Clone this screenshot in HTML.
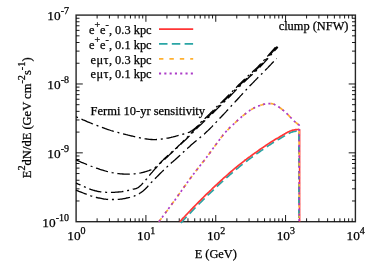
<!DOCTYPE html>
<html><head><meta charset="utf-8"><style>
html,body{margin:0;padding:0;background:#fff;}
svg{display:block;will-change:transform}
text{font-family:"Liberation Serif",serif;fill:#000;stroke:#000;stroke-width:0.25px}
</style></head><body>
<svg width="374" height="262" viewBox="0 0 374 262">
<rect width="374" height="262" fill="#fff"/>
<rect x="76.1" y="15.1" width="279.29999999999995" height="206.6" fill="none" stroke="#262626" stroke-width="1.4"/>
<path d="M97.12 221.7v-3.4M97.12 15.1v3.4M109.41 221.7v-3.4M109.41 15.1v3.4M118.14 221.7v-3.4M118.14 15.1v3.4M124.91 221.7v-3.4M124.91 15.1v3.4M130.43 221.7v-3.4M130.43 15.1v3.4M135.11 221.7v-3.4M135.11 15.1v3.4M139.16 221.7v-3.4M139.16 15.1v3.4M142.73 221.7v-3.4M142.73 15.1v3.4M145.92 221.7v-6.7M145.92 15.1v6.7M166.94 221.7v-3.4M166.94 15.1v3.4M179.24 221.7v-3.4M179.24 15.1v3.4M187.96 221.7v-3.4M187.96 15.1v3.4M194.73 221.7v-3.4M194.73 15.1v3.4M200.26 221.7v-3.4M200.26 15.1v3.4M204.93 221.7v-3.4M204.93 15.1v3.4M208.98 221.7v-3.4M208.98 15.1v3.4M212.55 221.7v-3.4M212.55 15.1v3.4M215.75 221.7v-6.7M215.75 15.1v6.7M236.77 221.7v-3.4M236.77 15.1v3.4M249.06 221.7v-3.4M249.06 15.1v3.4M257.79 221.7v-3.4M257.79 15.1v3.4M264.56 221.7v-3.4M264.56 15.1v3.4M270.08 221.7v-3.4M270.08 15.1v3.4M274.76 221.7v-3.4M274.76 15.1v3.4M278.81 221.7v-3.4M278.81 15.1v3.4M282.38 221.7v-3.4M282.38 15.1v3.4M285.57 221.7v-6.7M285.57 15.1v6.7M306.59 221.7v-3.4M306.59 15.1v3.4M318.89 221.7v-3.4M318.89 15.1v3.4M327.61 221.7v-3.4M327.61 15.1v3.4M334.38 221.7v-3.4M334.38 15.1v3.4M339.91 221.7v-3.4M339.91 15.1v3.4M344.58 221.7v-3.4M344.58 15.1v3.4M348.63 221.7v-3.4M348.63 15.1v3.4M352.20 221.7v-3.4M352.20 15.1v3.4M76.1 200.97h3.4M355.4 200.97h-3.4M76.1 188.84h3.4M355.4 188.84h-3.4M76.1 180.24h3.4M355.4 180.24h-3.4M76.1 173.56h3.4M355.4 173.56h-3.4M76.1 168.11h3.4M355.4 168.11h-3.4M76.1 163.50h3.4M355.4 163.50h-3.4M76.1 159.51h3.4M355.4 159.51h-3.4M76.1 155.98h3.4M355.4 155.98h-3.4M76.1 152.83h6.7M355.4 152.83h-6.7M76.1 132.10h3.4M355.4 132.10h-3.4M76.1 119.98h3.4M355.4 119.98h-3.4M76.1 111.37h3.4M355.4 111.37h-3.4M76.1 104.70h3.4M355.4 104.70h-3.4M76.1 99.24h3.4M355.4 99.24h-3.4M76.1 94.63h3.4M355.4 94.63h-3.4M76.1 90.64h3.4M355.4 90.64h-3.4M76.1 87.12h3.4M355.4 87.12h-3.4M76.1 83.97h6.7M355.4 83.97h-6.7M76.1 63.24h3.4M355.4 63.24h-3.4M76.1 51.11h3.4M355.4 51.11h-3.4M76.1 42.50h3.4M355.4 42.50h-3.4M76.1 35.83h3.4M355.4 35.83h-3.4M76.1 30.38h3.4M355.4 30.38h-3.4M76.1 25.77h3.4M355.4 25.77h-3.4M76.1 21.77h3.4M355.4 21.77h-3.4M76.1 18.25h3.4M355.4 18.25h-3.4" stroke="#000" stroke-width="0.9" fill="none"/>
<path d="M76.0 116.7 L76.8 117.0 L77.7 117.5 L78.9 118.0 L80.1 118.5 L81.5 119.1 L83.0 119.8 L84.5 120.4 L86.1 121.1 L87.6 121.8 L89.1 122.4 L90.6 123.0 L92.0 123.6 L93.3 124.1 L94.7 124.7 L96.0 125.2 L97.4 125.7 L98.7 126.2 L100.0 126.7 L101.4 127.3 L102.7 127.7 L104.1 128.2 L105.4 128.7 L106.8 129.2 L108.1 129.6 L109.5 130.0 L110.8 130.5 L112.2 130.9 L113.6 131.3 L115.0 131.7 L116.4 132.1 L117.8 132.4 L119.1 132.8 L120.4 133.1 L121.7 133.5 L122.9 133.8 L124.1 134.1 L125.2 134.4 L126.3 134.7 L127.3 134.9 L128.2 135.2 L129.2 135.4 L130.1 135.6 L131.0 135.8 L131.9 136.0 L132.7 136.2 L133.6 136.4 L134.5 136.6 L135.4 136.8 L136.3 137.0 L137.2 137.2 L138.2 137.4 L139.1 137.6 L140.0 137.8 L140.9 138.0 L141.8 138.2 L142.7 138.3 L143.5 138.5 L144.4 138.6 L145.2 138.8 L146.0 138.9 L146.8 139.0 L147.5 139.1 L148.2 139.2 L148.9 139.3 L149.5 139.4 L150.2 139.4 L150.8 139.5 L151.4 139.5 L152.1 139.5 L152.7 139.6 L153.3 139.6 L154.0 139.6 L154.7 139.6 L155.3 139.6 L156.0 139.6 L156.7 139.5 L157.3 139.5 L158.0 139.4 L158.7 139.4 L159.3 139.3 L160.0 139.2 L160.7 139.2 L161.3 139.1 L162.0 139.0 L162.7 138.9 L163.3 138.8 L163.9 138.8 L164.5 138.7 L165.1 138.6 L165.7 138.5 L166.4 138.4 L167.0 138.2 L167.7 138.1 L168.5 138.0 L169.3 137.8 L170.1 137.6 L171.0 137.4 L172.0 137.1 L173.1 136.9 L174.3 136.6 L175.4 136.3 L176.6 136.0 L177.8 135.6 L179.0 135.3 L180.1 135.0 L181.1 134.7 L182.1 134.5 L183.0 134.2 L183.8 134.0 L184.5 133.8 L185.2 133.6 L185.8 133.4 L186.4 133.3 L186.9 133.1 L187.4 132.9 L187.9 132.7 L188.4 132.5 L188.9 132.3 L189.5 132.1 L190.0 131.8 L190.6 131.5 L191.1 131.1 L191.7 130.8 L192.3 130.4 L192.8 130.0 L193.4 129.6 L193.9 129.2 L194.5 128.7 L195.0 128.3 L195.5 127.9 L196.0 127.4 L196.5 127.0 L197.0 126.6 L197.4 126.2 L197.8 125.8 L198.1 125.3 L198.5 124.9 L198.9 124.5 L199.2 124.1 L199.6 123.6 L200.0 123.2 L200.4 122.7 L200.9 122.2 L201.4 121.7 L202.0 121.2 L202.5 120.6 L203.2 120.0 L203.8 119.4 L204.5 118.8 L205.2 118.2 L205.9 117.5 L206.6 116.9 L207.3 116.2 L207.9 115.6 L208.6 114.9 L209.3 114.3 L210.0 113.6 L210.6 113.0 L211.3 112.3 L212.0 111.6 L212.7 110.9 L213.3 110.2 L214.0 109.5 L214.7 108.8 L215.3 108.2 L216.0 107.5 L216.6 106.9 L217.2 106.3 L217.7 105.8 L218.2 105.3 L218.6 105.0 L219.0 104.6 L219.3 104.3 L219.7 104.0 L220.1 103.6 L220.6 103.2 L221.1 102.6 L221.8 102.0 L222.6 101.2 L223.5 100.3 L224.6 99.2 L225.9 97.9 L227.3 96.5 L228.8 95.0 L230.4 93.3 L232.1 91.7 L233.8 89.9 L235.5 88.2 L237.2 86.5 L238.8 84.8 L240.5 83.2 L242.0 81.7 L243.5 80.3 L245.0 78.9 L246.4 77.5 L247.9 76.1 L249.3 74.8 L250.8 73.5 L252.2 72.2 L253.6 70.8 L255.1 69.5 L256.5 68.1 L258.0 66.7 L259.4 65.2 L260.9 63.6 L262.5 61.9 L264.1 60.1 L265.8 58.3 L267.5 56.4 L269.1 54.5 L270.7 52.7 L272.2 51.0 L273.6 49.4 L274.8 48.0 L275.9 46.8 L276.7 45.9" fill="none" stroke-dashoffset="16.13" stroke="#000" stroke-width="1.3" stroke-dasharray="12.5 3.8 2 3.8"/>
<path d="M76.0 159.9 L76.8 160.2 L77.7 160.6 L78.9 161.1 L80.1 161.7 L81.5 162.3 L83.0 162.9 L84.5 163.5 L86.1 164.2 L87.6 164.8 L89.1 165.4 L90.6 166.0 L92.0 166.5 L93.3 167.0 L94.7 167.5 L96.0 168.0 L97.4 168.4 L98.7 168.9 L100.0 169.4 L101.4 169.8 L102.7 170.2 L104.1 170.6 L105.4 171.0 L106.8 171.4 L108.1 171.7 L109.4 172.0 L110.8 172.3 L112.1 172.6 L113.5 172.8 L114.9 173.1 L116.2 173.3 L117.6 173.5 L118.9 173.6 L120.2 173.8 L121.5 173.9 L122.8 174.0 L124.1 174.1 L125.4 174.2 L126.6 174.2 L127.8 174.2 L129.0 174.2 L130.2 174.1 L131.4 174.1 L132.6 174.0 L133.8 173.9 L134.9 173.8 L136.1 173.6 L137.2 173.5 L138.4 173.3 L139.6 173.1 L140.8 172.9 L142.0 172.6 L143.2 172.3 L144.3 172.0 L145.5 171.7 L146.7 171.3 L147.8 171.0 L148.9 170.6 L149.9 170.2 L150.8 169.9 L151.7 169.5 L152.5 169.1 L153.2 168.8 L153.8 168.4 L154.4 168.0 L155.0 167.7 L155.5 167.3 L155.9 166.9 L156.4 166.5 L156.9 166.1 L157.4 165.6 L157.9 165.2 L158.4 164.7 L158.9 164.2 L159.4 163.8 L159.9 163.3 L160.4 162.8 L160.9 162.3 L161.3 161.8 L161.8 161.3 L162.4 160.7 L163.0 160.1 L163.6 159.4 L164.3 158.7 L165.1 158.0 L166.0 157.2 L167.0 156.3 L168.0 155.3 L169.1 154.3 L170.3 153.3 L171.5 152.2 L172.7 151.2 L173.9 150.1 L175.1 149.0 L176.3 148.0 L177.4 147.0 L178.4 146.0 L179.4 145.1 L180.4 144.1 L181.3 143.1 L182.3 142.2 L183.2 141.3 L184.2 140.3 L185.0 139.4 L185.9 138.6 L186.8 137.7 L187.6 136.9 L188.3 136.1 L189.1 135.3 L189.8 134.6 L190.5 133.9 L191.1 133.2 L191.7 132.6 L192.3 132.0 L192.8 131.5 L193.4 130.9 L193.9 130.3 L194.4 129.8 L194.9 129.3 L195.5 128.7 L196.0 128.2 L196.5 127.7 L197.0 127.2 L197.5 126.7 L198.0 126.2 L198.5 125.7 L198.9 125.3 L199.4 124.8 L199.9 124.3 L200.4 123.9 L200.9 123.4 L201.4 122.8 L202.0 122.3 L202.6 121.7 L203.2 121.2 L203.8 120.6 L204.5 120.0 L205.2 119.4 L205.8 118.7 L206.5 118.1 L207.2 117.5 L207.9 116.8 L208.6 116.2 L209.2 115.5 L209.9 114.9 L210.6 114.2 L211.2 113.6 L211.9 112.9 L212.6 112.2 L213.3 111.5 L214.0 110.8 L214.6 110.1 L215.3 109.4 L215.9 108.8 L216.6 108.1 L217.2 107.5 L217.8 106.9 L218.3 106.4 L218.8 105.9 L219.2 105.6 L219.6 105.2 L219.9 104.9 L220.3 104.6 L220.7 104.2 L221.2 103.8 L221.7 103.2 L222.4 102.6 L223.2 101.8 L224.1 100.9 L225.2 99.8 L226.5 98.5 L227.9 97.1 L229.4 95.6 L231.0 93.9 L232.7 92.3 L234.4 90.5 L236.1 88.8 L237.8 87.1 L239.4 85.4 L241.1 83.8 L242.6 82.3 L244.1 80.9 L245.6 79.5 L247.0 78.1 L248.5 76.7 L249.9 75.4 L251.4 74.1 L252.8 72.8 L254.2 71.4 L255.7 70.1 L257.1 68.7 L258.6 67.3 L260.0 65.8 L261.5 64.2 L263.1 62.5 L264.7 60.7 L266.4 58.9 L268.1 57.0 L269.7 55.1 L271.3 53.3 L272.8 51.6 L274.2 50.0 L275.4 48.6 L276.5 47.4 L277.3 46.5" fill="none" stroke-dashoffset="0.50" stroke="#000" stroke-width="1.3" stroke-dasharray="12.5 3.8 2 3.8"/>
<path d="M76.0 183.0 L76.8 183.3 L77.8 183.8 L78.9 184.3 L80.3 184.9 L81.7 185.6 L83.2 186.2 L84.7 186.9 L86.3 187.6 L87.8 188.3 L89.3 188.8 L90.7 189.4 L92.0 189.8 L93.2 190.2 L94.3 190.5 L95.4 190.8 L96.4 191.0 L97.4 191.3 L98.5 191.5 L99.5 191.6 L100.5 191.8 L101.5 191.9 L102.6 192.0 L103.7 192.1 L104.9 192.2 L106.1 192.3 L107.4 192.3 L108.8 192.3 L110.2 192.3 L111.6 192.3 L113.0 192.3 L114.4 192.3 L115.8 192.2 L117.2 192.1 L118.5 192.0 L119.7 191.9 L120.9 191.8 L122.0 191.7 L123.1 191.5 L124.2 191.3 L125.2 191.1 L126.2 190.9 L127.2 190.7 L128.1 190.5 L129.0 190.2 L129.8 190.0 L130.7 189.8 L131.5 189.6 L132.2 189.4 L132.9 189.2 L133.5 189.1 L134.1 189.0 L134.6 188.9 L135.1 188.8 L135.6 188.7 L136.0 188.5 L136.5 188.4 L136.9 188.2 L137.4 188.0 L137.9 187.7 L138.4 187.4 L138.9 187.0 L139.5 186.6 L140.0 186.1 L140.6 185.6 L141.1 185.1 L141.7 184.5 L142.2 183.9 L142.8 183.3 L143.3 182.7 L143.9 182.0 L144.4 181.4 L145.0 180.8 L145.6 180.2 L146.1 179.5 L146.7 178.9 L147.2 178.2 L147.8 177.5 L148.3 176.8 L148.9 176.1 L149.5 175.4 L150.0 174.7 L150.6 174.0 L151.1 173.4 L151.7 172.7 L152.3 172.1 L152.8 171.4 L153.4 170.8 L153.9 170.1 L154.5 169.5 L155.0 168.9 L155.6 168.3 L156.2 167.7 L156.7 167.1 L157.3 166.5 L157.8 165.9 L158.4 165.3 L158.9 164.8 L159.4 164.2 L159.9 163.8 L160.4 163.3 L160.9 162.9 L161.3 162.4 L161.8 161.9 L162.4 161.4 L163.0 160.9 L163.6 160.3 L164.3 159.6 L165.1 158.9 L166.0 158.1 L167.0 157.2 L168.0 156.2 L169.1 155.1 L170.3 154.0 L171.5 152.9 L172.7 151.8 L173.9 150.7 L175.1 149.6 L176.3 148.5 L177.4 147.5 L178.4 146.5 L179.4 145.6 L180.4 144.6 L181.3 143.7 L182.3 142.8 L183.2 141.9 L184.2 141.1 L185.0 140.2 L185.9 139.4 L186.8 138.6 L187.6 137.8 L188.3 137.0 L189.1 136.3 L189.8 135.6 L190.5 134.9 L191.1 134.3 L191.7 133.7 L192.3 133.1 L192.8 132.5 L193.3 131.9 L193.9 131.4 L194.4 130.8 L194.9 130.3 L195.4 129.8 L196.0 129.2 L196.6 128.7 L197.1 128.1 L197.6 127.6 L198.2 127.1 L198.7 126.6 L199.2 126.1 L199.8 125.6 L200.3 125.1 L200.9 124.5 L201.4 124.0 L202.0 123.5 L202.6 122.9 L203.2 122.3 L203.8 121.7 L204.5 121.1 L205.1 120.5 L205.8 119.9 L206.5 119.3 L207.1 118.7 L207.8 118.1 L208.5 117.4 L209.2 116.8 L209.8 116.1 L210.5 115.5 L211.2 114.8 L211.8 114.2 L212.5 113.5 L213.2 112.8 L213.9 112.1 L214.6 111.4 L215.2 110.7 L215.9 110.0 L216.5 109.4 L217.2 108.7 L217.8 108.1 L218.4 107.5 L218.9 107.0 L219.4 106.5 L219.8 106.2 L220.2 105.8 L220.5 105.5 L220.9 105.2 L221.3 104.8 L221.8 104.4 L222.3 103.8 L223.0 103.2 L223.8 102.4 L224.7 101.5 L225.8 100.4 L227.1 99.1 L228.5 97.7 L230.0 96.2 L231.6 94.5 L233.3 92.9 L235.0 91.1 L236.7 89.4 L238.4 87.7 L240.0 86.0 L241.7 84.4 L243.2 82.9 L244.7 81.5 L246.2 80.1 L247.6 78.7 L249.1 77.3 L250.5 76.0 L252.0 74.7 L253.4 73.4 L254.8 72.0 L256.3 70.7 L257.7 69.3 L259.2 67.9 L260.6 66.4 L262.1 64.8 L263.7 63.1 L265.3 61.3 L267.0 59.5 L268.7 57.6 L270.3 55.7 L271.9 53.9 L273.4 52.2 L274.8 50.6 L276.0 49.2 L277.1 48.0 L277.9 47.1" fill="none" stroke-dashoffset="7.58" stroke="#000" stroke-width="1.3" stroke-dasharray="12.5 3.8 2 3.8"/>
<path d="M76.0 190.2 L76.8 190.5 L77.8 190.9 L78.9 191.4 L80.3 191.9 L81.7 192.4 L83.2 193.0 L84.7 193.6 L86.3 194.2 L87.8 194.8 L89.3 195.3 L90.7 195.8 L92.0 196.2 L93.2 196.6 L94.4 196.9 L95.6 197.2 L96.7 197.5 L97.9 197.8 L99.0 198.0 L100.1 198.2 L101.1 198.4 L102.2 198.6 L103.1 198.8 L104.0 199.0 L104.9 199.1 L105.7 199.2 L106.4 199.3 L107.0 199.4 L107.6 199.4 L108.2 199.5 L108.7 199.5 L109.2 199.5 L109.7 199.5 L110.2 199.5 L110.8 199.5 L111.4 199.5 L112.0 199.5 L112.7 199.5 L113.4 199.5 L114.0 199.5 L114.7 199.5 L115.5 199.5 L116.2 199.5 L116.9 199.4 L117.7 199.4 L118.5 199.4 L119.3 199.3 L120.1 199.2 L120.9 199.1 L121.8 199.0 L122.7 198.8 L123.7 198.6 L124.7 198.5 L125.7 198.3 L126.7 198.0 L127.7 197.8 L128.7 197.6 L129.7 197.4 L130.6 197.1 L131.4 196.9 L132.2 196.7 L132.9 196.5 L133.5 196.3 L134.1 196.1 L134.6 195.9 L135.1 195.7 L135.6 195.5 L136.0 195.3 L136.5 195.1 L136.9 194.9 L137.4 194.7 L137.9 194.4 L138.4 194.1 L138.9 193.8 L139.5 193.5 L140.0 193.1 L140.6 192.8 L141.1 192.4 L141.7 192.0 L142.2 191.6 L142.8 191.2 L143.3 190.7 L143.9 190.3 L144.4 189.8 L145.0 189.3 L145.5 188.8 L146.0 188.3 L146.5 187.8 L147.0 187.3 L147.4 186.8 L147.9 186.2 L148.4 185.7 L149.0 185.0 L149.6 184.4 L150.2 183.7 L150.9 182.9 L151.7 182.1 L152.6 181.2 L153.5 180.2 L154.6 179.2 L155.7 178.0 L156.8 176.9 L158.0 175.7 L159.2 174.5 L160.4 173.3 L161.6 172.1 L162.8 170.9 L164.0 169.8 L165.1 168.7 L166.2 167.7 L167.3 166.6 L168.4 165.6 L169.5 164.6 L170.6 163.6 L171.7 162.6 L172.8 161.7 L173.9 160.7 L175.1 159.7 L176.2 158.7 L177.3 157.7 L178.4 156.7 L179.5 155.7 L180.6 154.7 L181.7 153.6 L182.9 152.6 L184.0 151.6 L185.1 150.5 L186.2 149.5 L187.4 148.5 L188.5 147.4 L189.7 146.4 L190.8 145.3 L192.0 144.3 L193.2 143.3 L194.4 142.2 L195.6 141.2 L196.9 140.2 L198.1 139.2 L199.4 138.2 L200.6 137.1 L201.9 136.1 L203.1 135.0 L204.4 133.9 L205.6 132.8 L206.9 131.6 L208.2 130.4 L209.4 129.2 L210.7 127.9 L212.0 126.6 L213.2 125.3 L214.5 124.0 L215.8 122.6 L217.0 121.3 L218.3 119.9 L219.5 118.6 L220.8 117.3 L222.0 116.0 L223.2 114.7 L224.5 113.4 L225.7 112.1 L226.9 110.7 L228.2 109.4 L229.4 108.1 L230.6 106.8 L231.7 105.5 L232.9 104.3 L234.0 103.1 L235.1 101.9 L236.1 100.8 L237.1 99.7 L238.0 98.7 L238.9 97.8 L239.7 96.8 L240.5 95.9 L241.3 95.1 L242.1 94.2 L242.9 93.4 L243.7 92.5 L244.4 91.7 L245.2 90.9 L246.0 90.0 L246.8 89.1 L247.6 88.3 L248.4 87.5 L249.2 86.7 L249.9 85.8 L250.7 85.0 L251.5 84.2 L252.3 83.4 L253.1 82.6 L253.9 81.8 L254.7 80.9 L255.5 80.1 L256.3 79.2 L257.2 78.4 L258.0 77.5 L258.9 76.6 L259.8 75.8 L260.7 74.9 L261.6 74.0 L262.4 73.1 L263.3 72.2 L264.2 71.3 L265.1 70.4 L266.0 69.5 L266.9 68.6 L267.9 67.6 L268.9 66.5 L269.9 65.5 L271.0 64.4 L272.0 63.3 L273.0 62.3 L273.9 61.4 L274.8 60.5 L275.5 59.7 L276.2 59.0 L276.7 58.5" fill="none" stroke-dashoffset="1.00" stroke="#000" stroke-width="1.3" stroke-dasharray="12.5 3.8 2 3.8"/>
<path d="M299.6 129.2 L299.6 221.7" fill="none" stroke="#ff3535" stroke-width="1.6"/>
<path d="M180.9 223.0 L181.4 222.4 L182.1 221.7 L182.8 220.9 L183.6 220.0 L184.6 219.0 L185.5 218.0 L186.6 216.8 L187.7 215.7 L188.8 214.5 L189.9 213.3 L191.1 212.1 L192.2 210.9 L193.4 209.7 L194.6 208.4 L195.9 207.1 L197.2 205.8 L198.6 204.4 L200.0 203.0 L201.4 201.6 L202.8 200.2 L204.2 198.8 L205.6 197.4 L207.0 196.0 L208.4 194.7 L209.8 193.4 L211.1 192.1 L212.5 190.8 L213.8 189.5 L215.2 188.2 L216.5 187.0 L217.9 185.7 L219.2 184.4 L220.6 183.2 L221.9 181.9 L223.3 180.7 L224.6 179.5 L226.0 178.3 L227.3 177.1 L228.7 175.9 L230.0 174.7 L231.4 173.5 L232.8 172.3 L234.1 171.1 L235.5 170.0 L236.8 168.9 L238.2 167.8 L239.5 166.7 L240.8 165.6 L242.1 164.6 L243.4 163.6 L244.7 162.6 L245.9 161.6 L247.2 160.7 L248.5 159.7 L249.7 158.8 L251.0 157.9 L252.2 157.0 L253.5 156.1 L254.7 155.2 L256.0 154.3 L257.3 153.4 L258.6 152.5 L259.9 151.5 L261.2 150.6 L262.5 149.7 L263.9 148.8 L265.2 147.9 L266.4 147.1 L267.6 146.2 L268.8 145.4 L269.9 144.7 L271.0 144.0 L272.0 143.4 L272.9 142.8 L273.8 142.2 L274.6 141.8 L275.3 141.3 L276.1 140.8 L276.8 140.4 L277.5 140.0 L278.2 139.6 L279.0 139.2 L279.7 138.8 L280.5 138.3 L281.3 137.8 L282.1 137.3 L283.0 136.8 L283.8 136.3 L284.7 135.8 L285.5 135.3 L286.4 134.8 L287.2 134.3 L288.0 133.9 L288.7 133.5 L289.4 133.1 L290.1 132.8 L290.7 132.5 L291.3 132.3 L291.9 132.1 L292.4 131.9 L292.9 131.8 L293.4 131.6 L293.8 131.5 L294.3 131.4 L294.7 131.3 L295.2 131.3 L295.6 131.2 L296.0 131.1 L296.4 131.0 L296.9 131.0 L297.3 130.9 L297.7 130.9 L298.9 130.6 L298.9 221.7" fill="none" stroke="#2aa5a5" stroke-width="1.7" stroke-dasharray="8.5 4.3"/>
<path d="M179.9 221.7 L180.4 221.1 L181.1 220.4 L181.8 219.6 L182.6 218.7 L183.6 217.7 L184.5 216.7 L185.6 215.5 L186.7 214.4 L187.8 213.2 L188.9 212.0 L190.1 210.8 L191.2 209.6 L192.4 208.4 L193.6 207.1 L194.9 205.8 L196.2 204.5 L197.6 203.1 L199.0 201.7 L200.4 200.3 L201.8 198.9 L203.2 197.5 L204.6 196.1 L206.0 194.7 L207.4 193.4 L208.8 192.1 L210.1 190.8 L211.5 189.5 L212.8 188.2 L214.2 186.9 L215.5 185.7 L216.9 184.4 L218.2 183.1 L219.6 181.9 L220.9 180.6 L222.3 179.4 L223.6 178.2 L225.0 177.0 L226.3 175.8 L227.7 174.6 L229.0 173.4 L230.4 172.2 L231.8 171.0 L233.1 169.8 L234.5 168.7 L235.8 167.6 L237.2 166.5 L238.5 165.4 L239.8 164.3 L241.1 163.3 L242.4 162.3 L243.7 161.3 L244.9 160.3 L246.2 159.4 L247.5 158.4 L248.7 157.5 L250.0 156.6 L251.2 155.7 L252.5 154.8 L253.7 153.9 L255.0 153.0 L256.3 152.1 L257.6 151.2 L258.9 150.2 L260.2 149.3 L261.5 148.4 L262.9 147.5 L264.2 146.6 L265.4 145.8 L266.6 144.9 L267.8 144.1 L268.9 143.4 L270.0 142.7 L271.0 142.1 L271.9 141.5 L272.8 140.9 L273.6 140.5 L274.3 140.0 L275.1 139.5 L275.8 139.1 L276.5 138.7 L277.2 138.3 L278.0 137.9 L278.7 137.5 L279.5 137.0 L280.3 136.5 L281.1 136.0 L282.0 135.5 L282.8 135.0 L283.7 134.5 L284.5 134.0 L285.4 133.5 L286.2 133.0 L287.0 132.6 L287.7 132.2 L288.4 131.8 L289.1 131.5 L289.7 131.2 L290.3 131.0 L290.9 130.8 L291.4 130.6 L291.9 130.5 L292.4 130.3 L292.8 130.2 L293.3 130.1 L293.7 130.0 L294.2 130.0 L294.6 129.9 L295.0 129.8 L295.4 129.7 L295.9 129.7 L296.3 129.6 L296.7 129.6 L297.1 129.5 L297.5 129.5 L297.9 129.5 L298.2 129.5 L298.6 129.4 L298.9 129.4 L299.1 129.4 L299.3 129.4" fill="none" stroke="#ff3535" stroke-width="1.7"/>
<path d="M158.9 221.7 L159.7 220.6 L160.7 219.3 L161.8 217.8 L163.1 216.1 L164.5 214.2 L165.9 212.2 L167.5 210.2 L169.0 208.0 L170.6 205.9 L172.1 203.8 L173.6 201.8 L175.0 199.9 L176.3 198.0 L177.7 196.1 L179.0 194.2 L180.4 192.3 L181.7 190.4 L183.1 188.5 L184.4 186.6 L185.8 184.7 L187.1 182.8 L188.5 180.9 L189.8 179.0 L191.2 177.2 L192.6 175.4 L194.0 173.5 L195.5 171.6 L196.9 169.7 L198.4 167.8 L199.8 165.9 L201.3 164.1 L202.6 162.4 L204.0 160.7 L205.2 159.1 L206.4 157.6 L207.4 156.2 L208.3 155.0 L209.1 153.9 L209.9 152.9 L210.5 152.0 L211.1 151.2 L211.6 150.5 L212.1 149.8 L212.6 149.0 L213.2 148.3 L213.7 147.5 L214.3 146.7 L215.0 145.8 L215.7 144.8 L216.5 143.8 L217.3 142.7 L218.1 141.6 L218.9 140.5 L219.7 139.4 L220.5 138.3 L221.3 137.3 L222.2 136.2 L223.0 135.1 L223.8 134.1 L224.6 133.2 L225.4 132.3 L226.2 131.4 L227.0 130.6 L227.8 129.8 L228.6 129.0 L229.3 128.2 L230.1 127.4 L230.9 126.7 L231.7 125.9 L232.5 125.2 L233.3 124.5 L234.1 123.7 L234.9 122.9 L235.7 122.2 L236.5 121.4 L237.3 120.7 L238.1 120.0 L238.9 119.2 L239.7 118.5 L240.5 117.8 L241.3 117.1 L242.1 116.4 L242.9 115.7 L243.7 115.1 L244.5 114.5 L245.3 113.8 L246.1 113.2 L246.9 112.6 L247.7 112.0 L248.4 111.4 L249.2 110.9 L250.0 110.3 L250.8 109.8 L251.6 109.3 L252.4 108.9 L253.2 108.4 L254.0 108.0 L254.8 107.6 L255.6 107.2 L256.5 106.8 L257.3 106.5 L258.1 106.1 L258.9 105.8 L259.7 105.6 L260.5 105.3 L261.3 105.0 L262.1 104.8 L262.8 104.6 L263.5 104.4 L264.2 104.2 L264.9 104.1 L265.6 104.0 L266.2 103.8 L266.9 103.8 L267.5 103.7 L268.1 103.6 L268.7 103.6 L269.3 103.6 L269.8 103.6 L270.4 103.6 L270.9 103.6 L271.4 103.7 L271.9 103.7 L272.3 103.8 L272.7 103.9 L273.2 104.0 L273.6 104.2 L274.0 104.3 L274.5 104.5 L274.9 104.7 L275.4 105.0 L276.0 105.3 L276.6 105.6 L277.2 106.0 L277.9 106.4 L278.5 106.8 L279.2 107.3 L279.9 107.8 L280.6 108.3 L281.3 108.8 L282.1 109.4 L282.8 110.0 L283.6 110.6 L284.3 111.2 L285.1 111.9 L285.9 112.6 L286.7 113.5 L287.6 114.3 L288.4 115.2 L289.3 116.1 L290.1 117.0 L291.0 117.8 L291.8 118.7 L292.5 119.5 L293.2 120.2 L293.9 120.8 L294.5 121.4 L295.1 121.9 L295.7 122.4 L296.2 122.8 L296.7 123.2 L297.1 123.6 L297.6 123.9 L298.0 124.3 L298.3 124.5 L298.7 124.8 L299.0 125.0 L299.2 125.2 L299.2 221.7" fill="none" stroke="#ffb030" stroke-width="1.7" stroke-dasharray="4.4 6"/>
<path d="M158.9 221.7 L159.7 220.6 L160.7 219.3 L161.8 217.8 L163.1 216.1 L164.5 214.2 L165.9 212.2 L167.5 210.2 L169.0 208.0 L170.6 205.9 L172.1 203.8 L173.6 201.8 L175.0 199.9 L176.3 198.0 L177.7 196.1 L179.0 194.2 L180.4 192.3 L181.7 190.4 L183.1 188.5 L184.4 186.6 L185.8 184.7 L187.1 182.8 L188.5 180.9 L189.8 179.0 L191.2 177.2 L192.6 175.4 L194.0 173.5 L195.5 171.6 L196.9 169.7 L198.4 167.8 L199.8 165.9 L201.3 164.1 L202.6 162.4 L204.0 160.7 L205.2 159.1 L206.4 157.6 L207.4 156.2 L208.3 155.0 L209.1 153.9 L209.9 152.9 L210.5 152.0 L211.1 151.2 L211.6 150.5 L212.1 149.8 L212.6 149.0 L213.2 148.3 L213.7 147.5 L214.3 146.7 L215.0 145.8 L215.7 144.8 L216.5 143.8 L217.3 142.7 L218.1 141.6 L218.9 140.5 L219.7 139.4 L220.5 138.3 L221.3 137.3 L222.2 136.2 L223.0 135.1 L223.8 134.1 L224.6 133.2 L225.4 132.3 L226.2 131.4 L227.0 130.6 L227.8 129.8 L228.6 129.0 L229.3 128.2 L230.1 127.4 L230.9 126.7 L231.7 125.9 L232.5 125.2 L233.3 124.5 L234.1 123.7 L234.9 122.9 L235.7 122.2 L236.5 121.4 L237.3 120.7 L238.1 120.0 L238.9 119.2 L239.7 118.5 L240.5 117.8 L241.3 117.1 L242.1 116.4 L242.9 115.7 L243.7 115.1 L244.5 114.5 L245.3 113.8 L246.1 113.2 L246.9 112.6 L247.7 112.0 L248.4 111.4 L249.2 110.9 L250.0 110.3 L250.8 109.8 L251.6 109.3 L252.4 108.9 L253.2 108.4 L254.0 108.0 L254.8 107.6 L255.6 107.2 L256.5 106.8 L257.3 106.5 L258.1 106.1 L258.9 105.8 L259.7 105.6 L260.5 105.3 L261.3 105.0 L262.1 104.8 L262.8 104.6 L263.5 104.4 L264.2 104.2 L264.9 104.1 L265.6 104.0 L266.2 103.8 L266.9 103.8 L267.5 103.7 L268.1 103.6 L268.7 103.6 L269.3 103.6 L269.8 103.6 L270.4 103.6 L270.9 103.6 L271.4 103.7 L271.9 103.7 L272.3 103.8 L272.7 103.9 L273.2 104.0 L273.6 104.2 L274.0 104.3 L274.5 104.5 L274.9 104.7 L275.4 105.0 L276.0 105.3 L276.6 105.6 L277.2 106.0 L277.9 106.4 L278.5 106.8 L279.2 107.3 L279.9 107.8 L280.6 108.3 L281.3 108.8 L282.1 109.4 L282.8 110.0 L283.6 110.6 L284.3 111.2 L285.1 111.9 L285.9 112.6 L286.7 113.5 L287.6 114.3 L288.4 115.2 L289.3 116.1 L290.1 117.0 L291.0 117.8 L291.8 118.7 L292.5 119.5 L293.2 120.2 L293.9 120.8 L294.5 121.4 L295.1 121.9 L295.7 122.4 L296.2 122.8 L296.7 123.2 L297.1 123.6 L297.6 123.9 L298.0 124.3 L298.3 124.5 L298.7 124.8 L299.0 125.0 L299.2 125.2 L299.2 221.7" fill="none" stroke="#ac3cc8" stroke-width="1.7" stroke-dasharray="2.1 3.2"/>
<path d="M159 29.1H193.2" stroke="#ff3535" stroke-width="1.8" stroke-dasharray="" fill="none"/>
<path d="M159 43.9H193.2" stroke="#2aa5a5" stroke-width="1.8" stroke-dasharray="8.5 4.3" fill="none"/>
<path d="M159 58.8H193.2" stroke="#ffb030" stroke-width="1.8" stroke-dasharray="4.4 6" fill="none"/>
<path d="M159 73.5H193.2" stroke="#ac3cc8" stroke-width="1.8" stroke-dasharray="2.1 3.2" fill="none"/>
<text x="151.6" y="34.1" text-anchor="end" font-size="12.4" >e<tspan dy="-6.2" font-size="10">+</tspan><tspan dy="6.2" font-size="12.4">&#8203;</tspan>e<tspan dy="-6.2" font-size="10">-</tspan><tspan dy="6.2" font-size="12.4">&#8203;</tspan>, 0.3 kpc</text><text x="151.6" y="48.85" text-anchor="end" font-size="12.4" >e<tspan dy="-6.2" font-size="10">+</tspan><tspan dy="6.2" font-size="12.4">&#8203;</tspan>e<tspan dy="-6.2" font-size="10">-</tspan><tspan dy="6.2" font-size="12.4">&#8203;</tspan>, 0.1 kpc</text><text x="151.6" y="63.8" text-anchor="end" font-size="12.4" ><tspan letter-spacing="0.45">eμτ</tspan>, 0.3 kpc</text><text x="151.6" y="78.4" text-anchor="end" font-size="12.4" ><tspan letter-spacing="0.45">eμτ</tspan>, 0.1 kpc</text><text x="348.5" y="30" text-anchor="end" font-size="12.4" >clump (NFW)</text><text x="90.5" y="115.2" text-anchor="start" font-size="12.5" >Fermi 10-yr sensitivity</text><text x="215.8" y="257.5" text-anchor="middle" font-size="12.4" >E (GeV)</text><text x="76.40" y="240.2" text-anchor="middle" font-size="13.3">10<tspan dy="-6" font-size="10">0</tspan></text><text x="146.22" y="240.2" text-anchor="middle" font-size="13.3">10<tspan dy="-6" font-size="10">1</tspan></text><text x="216.05" y="240.2" text-anchor="middle" font-size="13.3">10<tspan dy="-6" font-size="10">2</tspan></text><text x="285.87" y="240.2" text-anchor="middle" font-size="13.3">10<tspan dy="-6" font-size="10">3</tspan></text><text x="355.70" y="240.2" text-anchor="middle" font-size="13.3">10<tspan dy="-6" font-size="10">4</tspan></text><text x="69" y="226.50" text-anchor="end" font-size="13.3">10<tspan dy="-6" font-size="10">-10</tspan></text><text x="69" y="157.63" text-anchor="end" font-size="13.3">10<tspan dy="-6" font-size="10">-9</tspan></text><text x="69" y="88.77" text-anchor="end" font-size="13.3">10<tspan dy="-6" font-size="10">-8</tspan></text><text x="69" y="19.90" text-anchor="end" font-size="13.3">10<tspan dy="-6" font-size="10">-7</tspan></text><text transform="translate(31.2,117.8) rotate(-90)" text-anchor="middle" font-size="12.53">E<tspan dy="-6.7" font-size="10.3">2</tspan><tspan dy="6.7" font-size="12.4">&#8203;</tspan>dN/dE (GeV cm<tspan dy="-6.7" font-size="10.3">-2</tspan><tspan dy="6.7" font-size="12.4">&#8203;</tspan>s<tspan dy="-6.7" font-size="10.3">-1</tspan><tspan dy="6.7" font-size="12.4">&#8203;</tspan>)</text>
</svg></body></html>
